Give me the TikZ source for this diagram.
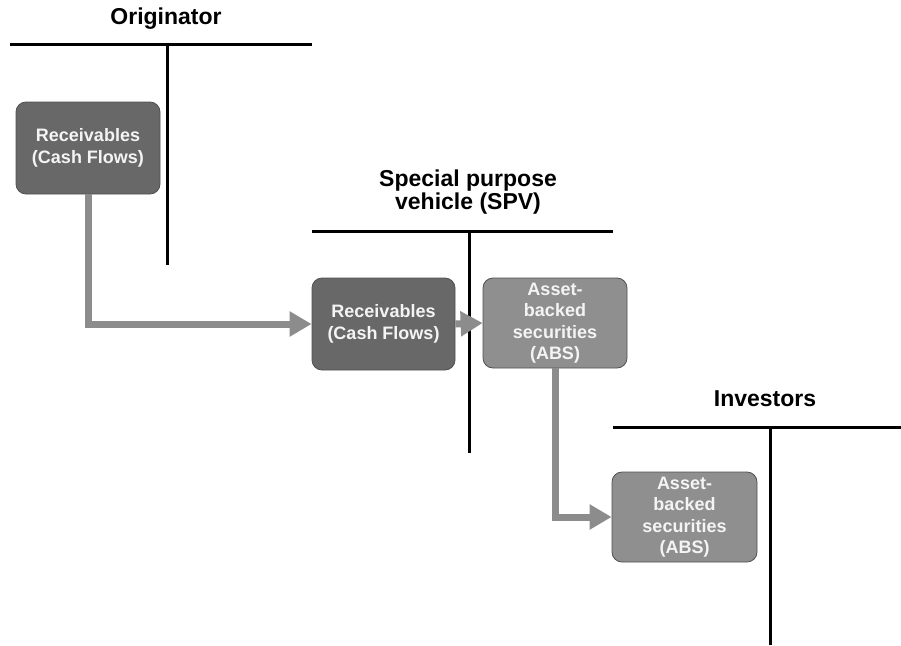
\documentclass[tikz,border=0pt]{standalone}
\usepackage{fontspec}
\setmainfont{Liberation Sans}
\usetikzlibrary{arrows.meta}
\definecolor{darkbox}{HTML}{686868}
\definecolor{lightbox}{HTML}{8F8F8F}
\definecolor{boxedge}{HTML}{505050}
\definecolor{flowgray}{HTML}{8C8C8C}
\definecolor{boxtext}{HTML}{F4F4F4}
\begin{document}
\begin{tikzpicture}[x=1pt,y=-1pt,
  card/.style={rounded corners=10pt, draw=boxedge, line width=0.8pt,
    text=boxtext, align=center, inner sep=0pt,
    font=\fontsize{18}{21.5}\selectfont\bfseries},
  darkcard/.style={card, fill=darkbox},
  lightcard/.style={card, fill=lightbox},
  heading/.style={align=center, font=\fontsize{23}{23}\selectfont\bfseries},
  ledger/.style={line width=3pt, black},
  flow/.style={line width=7pt, flowgray,
    -{Triangle[length=22pt,width=24pt]}}]
\useasboundingbox (0,0) rectangle (901,645);

% T-account frames
\coordinate (origL) at (10,44);   \coordinate (origR) at (312,44);
\coordinate (origT) at (167,44);  \coordinate (origB) at (167,265);
\coordinate (spvL) at (312,231);  \coordinate (spvR) at (613,231);
\coordinate (spvT) at (469,231);  \coordinate (spvB) at (469,453);
\coordinate (invL) at (613,427);  \coordinate (invR) at (901,427);
\coordinate (invT) at (770,427);  \coordinate (invB) at (770,645);
\draw[ledger] (origL) -- (origR);
\draw[ledger] (origT) -- (origB);
\draw[ledger] (spvL) -- (spvR);
\draw[ledger] (spvT) -- (spvB);
\draw[ledger] (invL) -- (invR);
\draw[ledger] (invT) -- (invB);

% headings
\node[heading] (hOrig) at (166,19) {Originator};
\node[heading, font=\fontsize{23}{23}\selectfont\bfseries] (hSpv) at (468,192) {Special purpose\\vehicle (SPV)};
\node[heading] (hInv) at (765,399) {Investors};

% boxes
\node[darkcard, minimum width=144pt, minimum height=92pt] (recvO) at (88,148) {Receivables\\(Cash Flows)};
\node[darkcard, minimum width=143pt, minimum height=92pt] (recvS) at (383.5,324) {Receivables\\(Cash Flows)};
\node[lightcard, minimum width=144pt, minimum height=90pt] (absS) at (555,323) {Asset-\\backed\\securities\\(ABS)};
\node[lightcard, minimum width=145pt, minimum height=90pt] (absI) at (684.5,517) {Asset-\\backed\\securities\\(ABS)};

% flows
\draw[flow] (recvO.south) |- (recvS.west);
\draw[flow] (recvS.east) -- (absS.west);
\draw[flow] (absS.south) |- (absI.west);
\end{tikzpicture}
\end{document}
